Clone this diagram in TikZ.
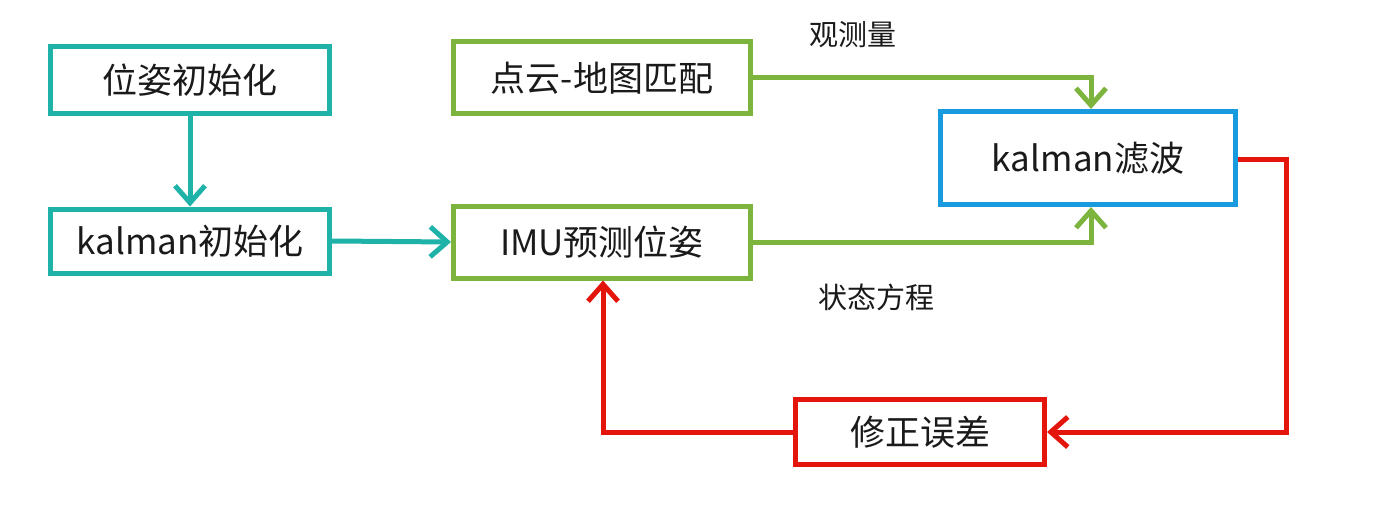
\documentclass[tikz,border=0pt]{standalone}
\usepackage{fontspec}
\setmainfont{Noto Sans CJK SC}
\usetikzlibrary{arrows.meta}
\definecolor{tealc}{RGB}{30,178,168}
\definecolor{greenc}{RGB}{124,180,62}
\definecolor{bluec}{RGB}{24,154,222}
\definecolor{redc}{RGB}{228,22,12}
\definecolor{ink}{RGB}{26,26,26}
\begin{document}
\begin{tikzpicture}[x=1pt,y=-1pt,
  box/.style={draw, line width=5pt, fill=white, inner sep=0pt, text=ink,
    font=\fontsize{35}{40}\selectfont, anchor=center},
  lbl/.style={text=ink, font=\fontsize{29}{32}\selectfont, inner sep=0pt},
  conn/.style={line width=5pt, -{Straight Barb[length=17pt,width=30pt,line width=5pt]}}]
\useasboundingbox (0,0) rectangle (1397,524);
% boxes
\node[box, draw=tealc, minimum width=279pt, minimum height=67pt] (init) at (190,80) {位姿初始化};
\node[box, draw=tealc, minimum width=279pt, minimum height=64pt] (kinit) at (190,241) {kalman初始化};
\node[box, draw=greenc, minimum width=297pt, minimum height=72pt] (match) at (602,78) {点云-地图匹配};
\node[box, draw=greenc, minimum width=297pt, minimum height=72pt] (imu) at (602,242) {IMU预测位姿};
\node[box, draw=bluec, minimum width=295pt, minimum height=93pt] (kf) at (1088,158) {kalman滤波};
\node[box, draw=redc, minimum width=249pt, minimum height=65pt] (fix) at (920,432) {修正误差};
% labels
\node[lbl] (obs) at (853,35) {观测量};
\node[lbl] (state) at (876,297) {状态方程};
% routing corners
\coordinate (c1) at (1091,78);
\coordinate (c2) at (1091,242);
\coordinate (r1) at (1286,159);
\coordinate (r2) at (1286,432);
\coordinate (l1) at (603,432);
% connectors
\draw[conn, tealc] (init.south) -- (kinit.north);
\draw[conn, tealc] (kinit.east) -- (imu.west);
\draw[conn, greenc] (match.east) -- (c1) -- (kf.north -| c1);
\draw[conn, greenc] (imu.east) -- (c2) -- (kf.south -| c2);
\draw[conn, redc] (kf.east |- r1) -- (r1) -- (r2) -- (fix.east);
\draw[conn, redc] (fix.west) -- (l1) -- (imu.south -| l1);
\end{tikzpicture}
\end{document}
